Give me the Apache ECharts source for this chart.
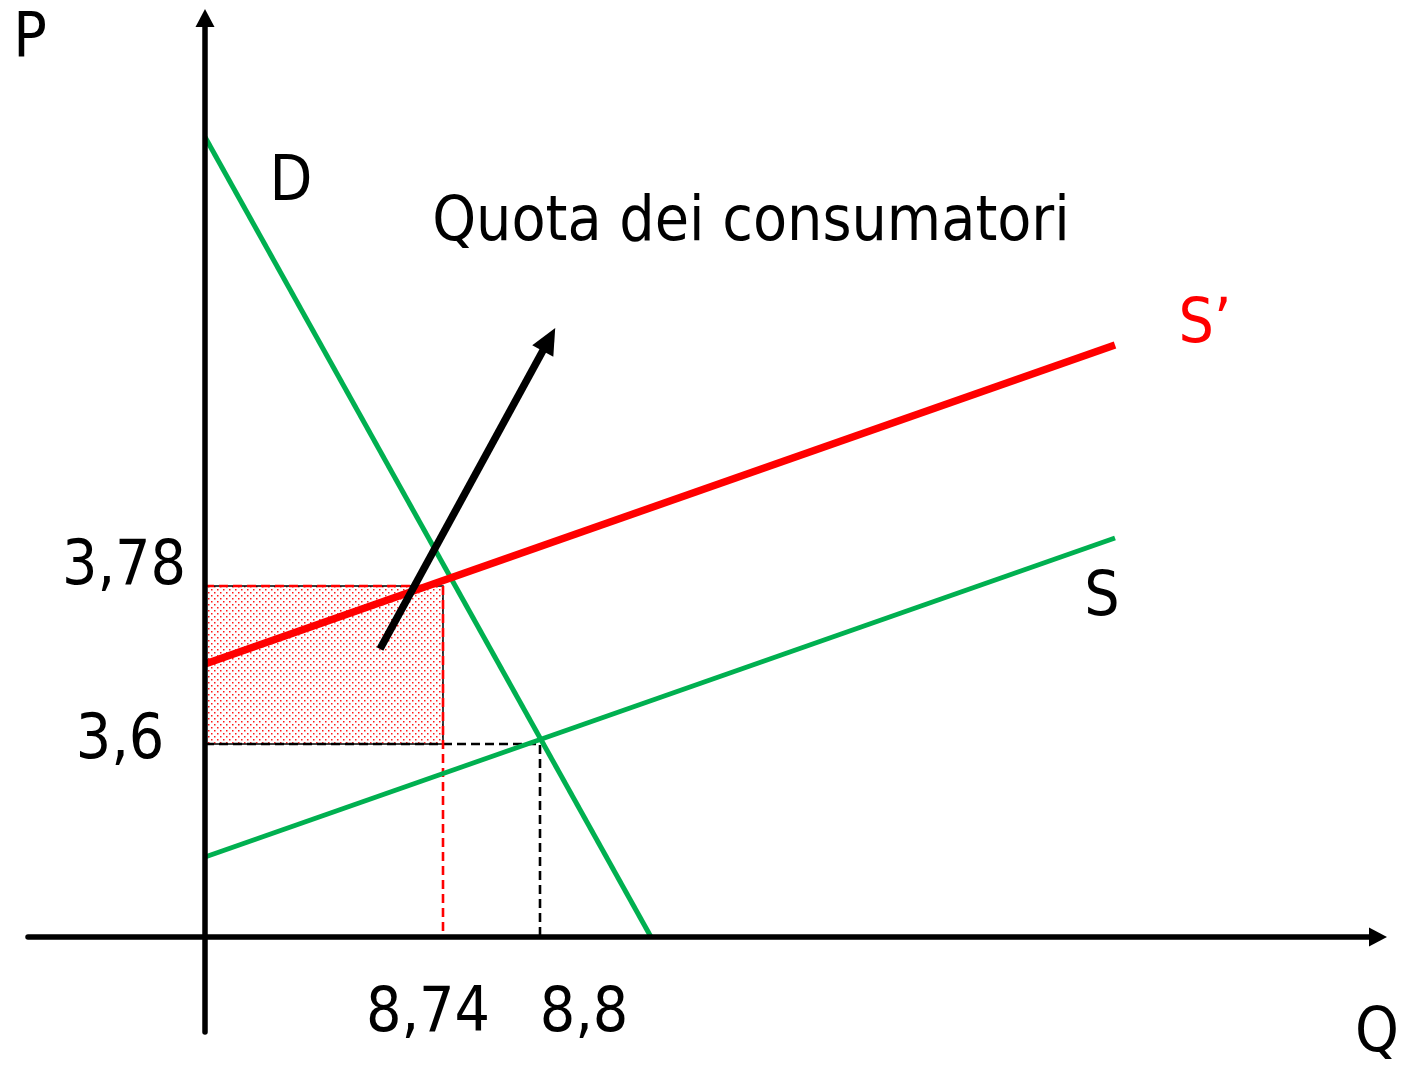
<!DOCTYPE html>
<html>
<head>
<meta charset="utf-8">
<title>Quota dei consumatori</title>
<script src="https://cdn.jsdelivr.net/npm/echarts@6/dist/echarts.min.js"></script>
<style>
  html, body {margin: 0; padding: 0; background: #fff;}
  #main {width: 1406px; height: 1066px;}
</style>
</head>
<body>
<div id="main"></div>
<script>
// curve end points (abstract diagram units, origin at the axes crossing)
var demandLine = [[0, 8.00], [4.46, 0]];
var supplyLine = [[0, 0.80], [9.10, 3.99]];
var supplyQuotaLine = [[0, 2.73], [9.10, 5.92]];
// equilibrium before / after the quota
var eqOld = [3.35, 1.93];
var eqNew = [2.38, 3.51];
// the arrow
var arrowFrom = [1.75, 2.88];
var arrowTo = [3.44, 5.975];
// labels
var priceLabels = ['3,78', '3,6'];
var quantityLabels = ['8,74', '8,8'];
var curveLabels = ['D', 'S', 'S\u2019'];

var FONT = '"DejaVu Sans Condensed", "DejaVu Sans", sans-serif';
var GREEN = '#00B050';
var RED = '#FF0000';

// dotted fill for the rectangle
function dotPattern() {
	var c = document.createElement('canvas');
	c.width = 6; c.height = 6;
	var ctx = c.getContext('2d');
	ctx.fillStyle = 'rgba(255,0,0,0.9)';
	ctx.fillRect(1, 1, 1.5, 1.5);
	ctx.fillRect(4, 4, 1.5, 1.5);
	return c;
}

function txt(text, x, y, color) {
	return {
		type: 'text', x: x, y: y + 5, z: 100,
		style: {text: text, fill: color || '#000', font: '62px ' + FONT, align: 'center', verticalAlign: 'middle'}
	};
}

var myChart = echarts.init(document.getElementById('main'));
var option = {
	animation: false,
	backgroundColor: '#fff',
	grid: {left: 28, right: 28, top: 18, bottom: 34},
	xAxis: {
		type: 'value', min: -1.77, max: 11.73, z: 10,
		axisLine: {onZero: true, symbol: ['none', 'triangle'], symbolSize: [19, 18], lineStyle: {color: '#000', width: 5.5}},
		axisTick: {show: false}, axisLabel: {show: false}, splitLine: {show: false}
	},
	yAxis: {
		type: 'value', min: -0.95, max: 9.19, z: 10,
		axisLine: {onZero: true, symbol: ['none', 'triangle'], symbolSize: [19, 18], lineStyle: {color: '#000', width: 5.5}},
		axisTick: {show: false}, axisLabel: {show: false}, splitLine: {show: false}
	},
	series: [
		{
			name: 'quota', type: 'line', data: [], silent: true,
			markArea: {
				silent: true,
				itemStyle: {color: {image: dotPattern(), repeat: 'repeat'}, borderColor: '#000', borderWidth: 1.5},
				data: [[{coord: [0, eqNew[1]]}, {coord: [eqNew[0], eqOld[1]]}]]
			}
		},
		{
			name: 'old', type: 'line', symbol: 'none', z: 3,
			lineStyle: {color: '#000', width: 2.6, type: [9, 5]},
			data: [[0, eqOld[1]], [eqOld[0], eqOld[1]], [eqOld[0], 0]]
		},
		{
			name: 'new', type: 'line', symbol: 'none', z: 3,
			lineStyle: {color: RED, width: 2.6, type: [9, 5]},
			data: [[0, eqNew[1]], [eqNew[0], eqNew[1]], [eqNew[0], 0]]
		},
		{name: 'S', type: 'line', symbol: 'none', z: 4, lineStyle: {color: GREEN, width: 5}, data: supplyLine},
		{name: 'D', type: 'line', symbol: 'none', z: 4, lineStyle: {color: GREEN, width: 5}, data: demandLine},
		{name: 'S1', type: 'line', symbol: 'none', z: 5, lineStyle: {color: RED, width: 7.5}, data: supplyQuotaLine},
		{
			name: 'arrow', type: 'line', data: [], z: 6,
			markLine: {
				silent: true, z: 6,
				symbol: ['none', 'triangle'], symbolSize: [24, 26],
				label: {show: false},
				lineStyle: {color: '#000', width: 7.5, type: 'solid'},
				data: [[{coord: arrowFrom}, {coord: arrowTo}]]
			}
		}
	],
	graphic: [
		txt('P', 30, 35),
		txt('Q', 1377, 1030),
		txt(curveLabels[0], 291, 179),
		txt('Quota dei consumatori', 751, 219),
		txt(curveLabels[2], 1205, 321, RED),
		txt(curveLabels[1], 1102, 594),
		txt(priceLabels[0], 124, 563),
		txt(priceLabels[1], 120, 737),
		txt(quantityLabels[0], 428, 1010),
		txt(quantityLabels[1], 584, 1010)
	]
};
myChart.setOption(option);
</script>
</body>
</html>
